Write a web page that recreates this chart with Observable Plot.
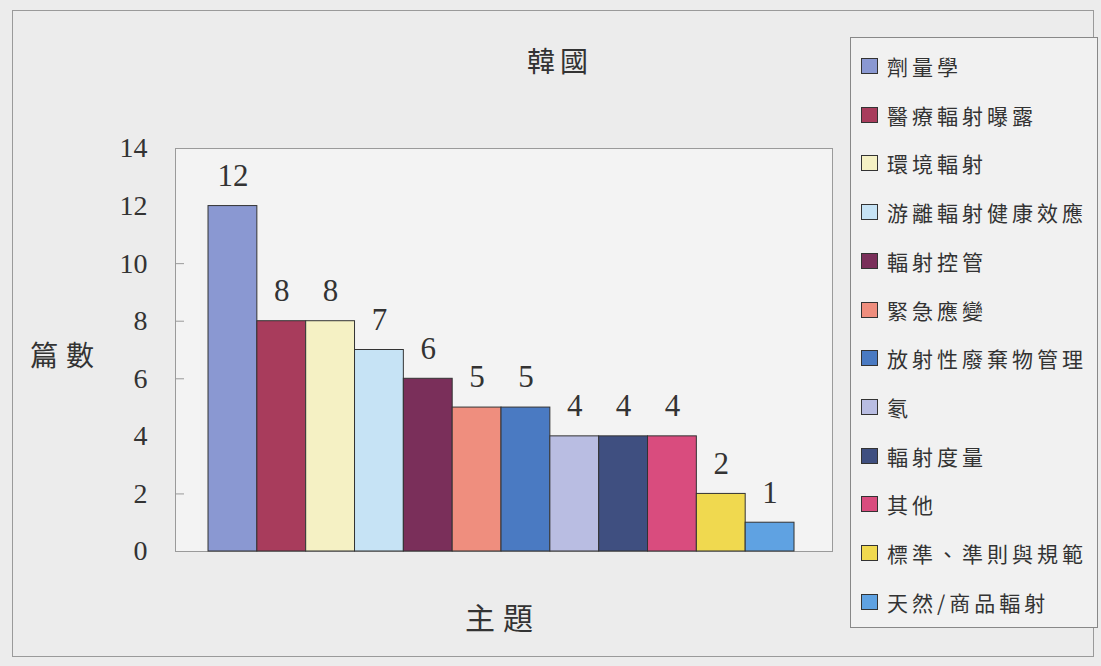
<!DOCTYPE html>
<html><head><meta charset="utf-8">
<script src="https://cdn.jsdelivr.net/npm/d3@7"></script>
<script src="https://cdn.jsdelivr.net/npm/@observablehq/plot@0.6"></script>
<style>
html,body{margin:0;padding:0;background:#ececec;}
#wrap{position:relative;width:1101px;height:666px;overflow:hidden;}
#outer{position:absolute;left:12px;top:10px;width:1082px;height:647px;border:1px solid #9a9a9a;box-sizing:border-box;}
.t{position:absolute;font-family:"Noto Sans CJK TC",sans-serif;color:#333;white-space:nowrap;}
#legend{position:absolute;left:850px;top:37px;width:248px;height:591px;border:1px solid #888;box-sizing:border-box;background:#f1f1f1;}
.li{position:absolute;left:10px;height:26px;display:flex;align-items:center;font-family:"Noto Sans CJK TC",sans-serif;font-size:21px;letter-spacing:4px;color:#333;white-space:nowrap;}
.sw{width:15px;height:14px;border:1px solid #333;margin-right:9px;flex:none;}
#chart{position:absolute;left:0;top:0;}
</style></head>
<body><div id="wrap"><div id="outer"></div><div id="chart"></div>
<div class="t" style="left:527px;top:40px;font-size:28px;letter-spacing:5px;">韓國</div>
<div class="t" style="left:30px;top:334px;font-size:28px;letter-spacing:8px;">篇數</div>
<div class="t" style="left:465px;top:594px;font-size:30px;letter-spacing:8px;">主題</div>
<div id="legend"></div>
</div>
<script>
const categories = ["劑量學","醫療輻射曝露","環境輻射","游離輻射健康效應","輻射控管","緊急應變","放射性廢棄物管理","氡","輻射度量","其他","標準、準則與規範","天然/商品輻射"];
const counts = [12,8,8,7,6,5,5,4,4,4,2,1];
const colors = ["#8a98d2","#a83c5c","#f5f1c4","#c6e3f5","#7a2f5a","#ef8e7e","#4a7ac2","#b9bde2","#3f4f80","#d94c7e","#f0d94f","#5fa2e2"];
const yTicks = [0,2,4,6,8,10,12,14];
const innerTicks = [2,6,8,10];

const data = categories.map((c,i)=>({cat:c, n:counts[i], color:colors[i]}));

const chart = Plot.plot({
  width:1101, height:666,
  marginLeft:175, marginRight:269, marginTop:148, marginBottom:115,
  style:{background:"transparent", fontFamily:"'Liberation Serif', serif"},
  x:{type:"band", domain:categories, paddingInner:0, paddingOuter:0.727, align:0.465, round:false, axis:null},
  y:{domain:[0,14], label:null},
  marks:[
    Plot.frame({fill:"#f3f3f3", stroke:"#9a9a9a"}),
    Plot.ruleY(innerTicks, {stroke:"#999", insetRight:648}),
    Plot.barY(data,{x:"cat", y:"n", fill:"color", stroke:"#333", strokeWidth:1, inset:0}),
    Plot.text(data,{x:"cat", y:"n", text:d=>String(d.n), dy:-30, fontSize:31, fill:"#333", fontFamily:"'Liberation Serif', serif"}),
    Plot.axisY({ticks:yTicks, tickSize:0, tickPadding:28, fontSize:28, fill:"#333", label:null, tickFormat:d=>String(d)})
  ]
});
document.getElementById("chart").appendChild(chart);

const legend = document.getElementById("legend");
categories.forEach((c,i)=>{
  const d = document.createElement("div");
  d.className="li";
  d.style.top = (15 + i*48.7) + "px";
  const s = document.createElement("div");
  s.className="sw"; s.style.background = colors[i];
  const t = document.createElement("span");
  t.textContent = c;
  d.appendChild(s); d.appendChild(t);
  legend.appendChild(d);
});
</script>
</body></html>
